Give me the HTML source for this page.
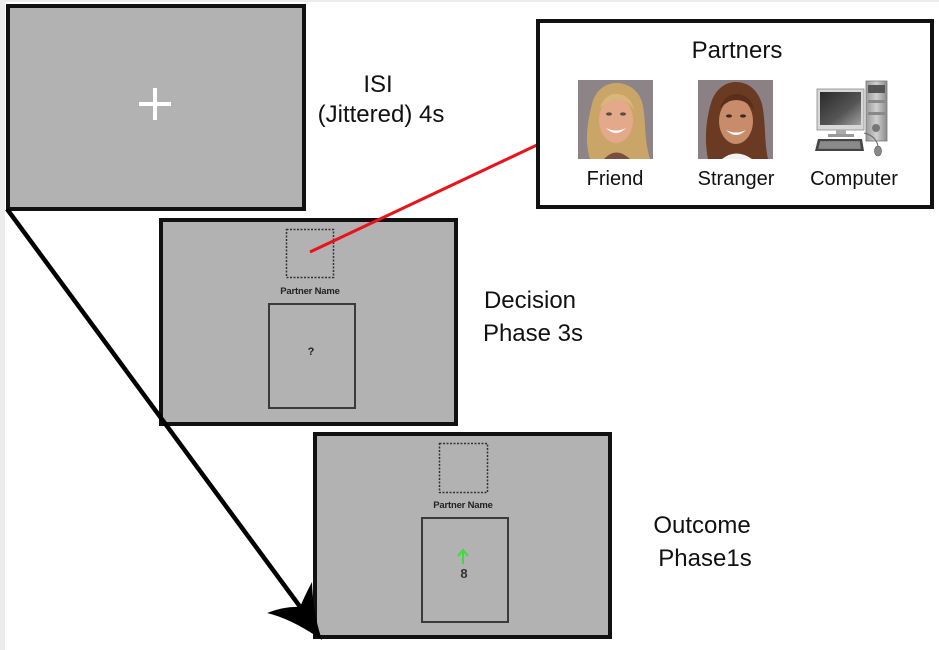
<!DOCTYPE html>
<html>
<head>
<meta charset="utf-8">
<style>
html,body{margin:0;padding:0;background:#fff;}
body{width:939px;height:650px;overflow:hidden;position:relative;}
svg{position:absolute;left:0;top:0;}
text{font-family:"Liberation Sans",Arial,sans-serif;}
</style>
</head>
<body>
<svg width="939" height="650" viewBox="0 0 939 650" xmlns="http://www.w3.org/2000/svg">
  <defs>
    <linearGradient id="scr" x1="0" y1="0" x2="1" y2="1">
      <stop offset="0" stop-color="#2a2a2a"/>
      <stop offset="0.6" stop-color="#555"/>
      <stop offset="1" stop-color="#a0a0a0"/>
    </linearGradient>
    <linearGradient id="tow" x1="0" y1="0" x2="1" y2="0">
      <stop offset="0" stop-color="#9a9a9a"/>
      <stop offset="0.5" stop-color="#d0d0d0"/>
      <stop offset="1" stop-color="#8a8a8a"/>
    </linearGradient>
  </defs>
  <!-- page edges -->
  <rect x="0" y="0" width="939" height="650" fill="#fff"/>
  <rect x="0" y="0" width="939" height="2" fill="#ececec"/>
  <rect x="0" y="0" width="5" height="650" fill="#ececec"/>

  <!-- Box 1 ISI -->
  <rect x="8" y="6" width="296" height="203" fill="#b2b2b2" stroke="#111" stroke-width="4"/>
  <rect x="139" y="102" width="32" height="4" fill="#fff"/>
  <rect x="153" y="88" width="4" height="32" fill="#fff"/>

  <text x="378" y="92" font-size="24" text-anchor="middle" fill="#111">ISI</text>
  <text x="381" y="122" font-size="24" text-anchor="middle" fill="#111">(Jittered) 4s</text>

  <!-- Box 2 Decision -->
  <rect x="161" y="220" width="295" height="204" fill="#b2b2b2" stroke="#111" stroke-width="4"/>
  <rect x="286.5" y="229.5" width="47" height="48" fill="none" stroke="#333" stroke-width="1.5" stroke-dasharray="2,1.5"/>
  <text x="310" y="294" font-size="9.5" font-weight="bold" text-anchor="middle" fill="#222" letter-spacing="-0.2">Partner Name</text>
  <rect x="269" y="304" width="86" height="104" fill="none" stroke="#3a3a3a" stroke-width="2"/>
  <text x="311" y="355" font-size="11" font-weight="bold" text-anchor="middle" fill="#222">?</text>

  <text x="530" y="308" font-size="24" text-anchor="middle" fill="#111">Decision</text>
  <text x="533" y="341" font-size="24" text-anchor="middle" fill="#111">Phase 3s</text>

  <!-- Box 3 Outcome -->
  <rect x="315" y="434" width="295" height="203" fill="#b2b2b2" stroke="#111" stroke-width="4"/>
  <rect x="439.5" y="443.5" width="48" height="49" fill="none" stroke="#333" stroke-width="1.5" stroke-dasharray="2,1.5"/>
  <text x="463" y="508" font-size="9.5" font-weight="bold" text-anchor="middle" fill="#222" letter-spacing="-0.2">Partner Name</text>
  <rect x="422" y="518" width="86" height="104" fill="none" stroke="#3a3a3a" stroke-width="2"/>
  <line x1="463" y1="564" x2="463" y2="552" stroke="#3ddc3d" stroke-width="2"/>
  <path d="M458,556 L463,550 L468,556" fill="none" stroke="#3ddc3d" stroke-width="2"/>
  <text x="464" y="578" font-size="13" font-weight="bold" text-anchor="middle" fill="#333">8</text>

  <text x="702" y="533" font-size="24" text-anchor="middle" fill="#111">Outcome</text>
  <text x="705" y="566" font-size="24" text-anchor="middle" fill="#111">Phase1s</text>

  <!-- Black arrow -->
  <line x1="7" y1="209" x2="301" y2="608" stroke="#000" stroke-width="4.5"/>
  <path d="M322,640 Q292,619 267,613 Q285,606 300,607 Q306,593 312,582 Q313,614 322,640 Z" fill="#000"/>

  <!-- Red connector -->
  <line x1="310" y1="252" x2="537" y2="145" stroke="#e8141c" stroke-width="3"/>

  <!-- Partners box -->
  <rect x="538" y="21" width="394" height="186" fill="#fff" stroke="#111" stroke-width="4"/>
  <text x="737" y="58" font-size="24" text-anchor="middle" fill="#111">Partners</text>

  <!-- Friend photo -->
  <g>
    <rect x="578" y="80" width="75" height="79" fill="#8d8488"/>
    <path d="M590,159 C584,140 588,120 592,104 C596,88 608,83 616,83 C628,83 640,90 643,106 C646,122 644,140 650,159 Z" fill="#c9a667"/>
    <ellipse cx="616" cy="120" rx="17" ry="23" fill="#e3a98a"/>
    <path d="M600,108 C604,96 612,93 618,94 C626,95 632,100 634,110 C628,100 620,98 612,100 C606,102 602,106 600,108 Z" fill="#d8b878"/>
    <path d="M606,128 Q616,138 626,128 Q616,133 606,128 Z" fill="#fff"/>
    <ellipse cx="609" cy="114" rx="3" ry="1.6" fill="#5a4a40"/>
    <ellipse cx="623" cy="114" rx="3" ry="1.6" fill="#5a4a40"/>
    <path d="M604,159 Q616,146 630,159 Z" fill="#7a4e3c"/>
  </g>
  <!-- Stranger photo -->
  <g>
    <rect x="698" y="80" width="75" height="79" fill="#8b8185"/>
    <path d="M708,159 C704,140 706,118 712,100 C718,86 728,82 736,82 C748,82 758,90 762,104 C766,122 764,142 768,159 Z" fill="#6a3a22"/>
    <ellipse cx="736" cy="121" rx="17" ry="23" fill="#c88c6a"/>
    <path d="M720,108 C724,96 732,94 738,94 C746,95 752,100 754,110 C746,100 738,99 730,101 C726,103 722,106 720,108 Z" fill="#5a2e1a"/>
    <path d="M726,130 Q736,140 746,130 Q736,135 726,130 Z" fill="#fff"/>
    <ellipse cx="729" cy="116" rx="3" ry="1.6" fill="#3a2a20"/>
    <ellipse cx="743" cy="116" rx="3" ry="1.6" fill="#3a2a20"/>
    <path d="M722,159 Q736,148 752,159 Z" fill="#f2f2f2"/>
  </g>
  <!-- Computer -->
  <g>
    <rect x="866" y="81" width="21" height="60" fill="url(#tow)" stroke="#777" stroke-width="0.8"/>
    <rect x="868" y="85" width="17" height="8" fill="#555"/>
    <rect x="868" y="100" width="17" height="3" fill="#888"/>
    <rect x="868" y="112" width="17" height="3" fill="#888"/>
    <circle cx="876" cy="128" r="4" fill="#777"/>
    <rect x="817" y="89" width="47" height="41" fill="#d8d8d8" stroke="#888" stroke-width="0.8"/>
    <rect x="820" y="92" width="41" height="33" fill="url(#scr)"/>
    <rect x="836" y="130" width="10" height="4" fill="#aaa"/>
    <rect x="828" y="134" width="26" height="3" fill="#999"/>
    <path d="M818,139 L862,139 L864,151 L815,151 Z" fill="#444"/>
    <path d="M820,141 L860,141 L861,149 L818,149 Z" fill="#8a8a8a" stroke="#444" stroke-width="0.5" stroke-dasharray="1.5,1"/>
    <path d="M864,133 Q876,136 878,146" fill="none" stroke="#666" stroke-width="1"/>
    <ellipse cx="878" cy="151" rx="3.5" ry="5" fill="#888" stroke="#555" stroke-width="0.6"/>
  </g>

  <text x="615" y="185" font-size="20" text-anchor="middle" fill="#111">Friend</text>
  <text x="736" y="185" font-size="20" text-anchor="middle" fill="#111">Stranger</text>
  <text x="854" y="185" font-size="20" text-anchor="middle" fill="#111">Computer</text>
</svg>
</body>
</html>
